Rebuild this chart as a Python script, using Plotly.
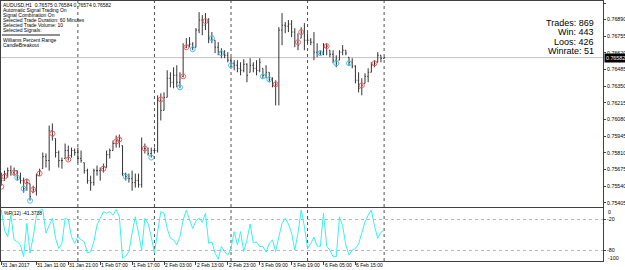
import plotly.graph_objects as go

# ---------------- data ----------------
open_ = [0.75616, 0.75584, 0.75641, 0.75665, 0.75649, 0.75665, 0.75608, 0.75584, 0.75519, 0.75559,
         0.75486, 0.75511, 0.75624, 0.75681, 0.75779, 0.75747, 0.75991, 0.75926, 0.75812, 0.75747,
         0.75763, 0.75828, 0.75787, 0.75828, 0.75812, 0.75763, 0.75730, 0.75665, 0.75584, 0.75568,
         0.75665, 0.75665, 0.75681, 0.75690, 0.75795, 0.75828, 0.75885, 0.75909, 0.75869, 0.75641,
         0.75616, 0.75600, 0.75568, 0.75584, 0.75551, 0.75844, 0.75844, 0.75804, 0.75828, 0.75828,
         0.76235, 0.76154, 0.76259, 0.76414, 0.76382, 0.76438, 0.76382, 0.76430, 0.76666, 0.76683,
         0.76691, 0.76666, 0.76805, 0.76886, 0.76845, 0.76878, 0.76740, 0.76723, 0.76666, 0.76626,
         0.76618, 0.76601, 0.76561, 0.76536, 0.76520, 0.76495, 0.76479, 0.76528, 0.76463, 0.76520,
         0.76495, 0.76479, 0.76495, 0.76438, 0.76463, 0.76406, 0.76357, 0.76365, 0.76805, 0.76845,
         0.76837, 0.76854, 0.76789, 0.76707, 0.76740, 0.76789, 0.76723, 0.76723, 0.76707, 0.76626,
         0.76618, 0.76618, 0.76666, 0.76642, 0.76609, 0.76561, 0.76561, 0.76626, 0.76642, 0.76585,
         0.76544, 0.76512, 0.76398, 0.76333, 0.76373, 0.76430, 0.76463, 0.76520, 0.76544, 0.76601,
         0.76575]
high = [0.75649, 0.75665, 0.75690, 0.75706, 0.75690, 0.75665, 0.75649, 0.75608, 0.75600, 0.75559,
        0.75543, 0.75641, 0.75681, 0.75812, 0.75804, 0.76031, 0.76048, 0.75926, 0.75828, 0.75771,
        0.75885, 0.75869, 0.75852, 0.75844, 0.75852, 0.75828, 0.75730, 0.75681, 0.75624, 0.75681,
        0.75706, 0.75690, 0.75722, 0.75828, 0.75844, 0.75909, 0.75950, 0.75958, 0.75869, 0.75649,
        0.75641, 0.75665, 0.75641, 0.75641, 0.75934, 0.75885, 0.75852, 0.75852, 0.75852, 0.76276,
        0.76292, 0.76300, 0.76479, 0.76463, 0.76504, 0.76520, 0.76463, 0.76699, 0.76740, 0.76748,
        0.76707, 0.76821, 0.76951, 0.76927, 0.76943, 0.76902, 0.76789, 0.76723, 0.76707, 0.76658,
        0.76642, 0.76626, 0.76585, 0.76561, 0.76561, 0.76544, 0.76569, 0.76536, 0.76577, 0.76544,
        0.76561, 0.76577, 0.76495, 0.76520, 0.76463, 0.76422, 0.76398, 0.76829, 0.76943, 0.76870,
        0.76886, 0.76886, 0.76821, 0.76780, 0.76829, 0.76862, 0.76780, 0.76740, 0.76789, 0.76699,
        0.76642, 0.76699, 0.76699, 0.76642, 0.76642, 0.76601, 0.76642, 0.76683, 0.76642, 0.76585,
        0.76577, 0.76520, 0.76463, 0.76414, 0.76455, 0.76495, 0.76544, 0.76561, 0.76626, 0.76601,
        0.76584]
low = [0.75543, 0.75584, 0.75608, 0.75624, 0.75624, 0.75584, 0.75559, 0.75486, 0.75502, 0.75421,
       0.75486, 0.75462, 0.75624, 0.75681, 0.75690, 0.75665, 0.75909, 0.75771, 0.75690, 0.75681,
       0.75763, 0.75747, 0.75771, 0.75787, 0.75730, 0.75730, 0.75641, 0.75559, 0.75502, 0.75543,
       0.75624, 0.75584, 0.75649, 0.75690, 0.75763, 0.75828, 0.75852, 0.75852, 0.75624, 0.75584,
       0.75568, 0.75502, 0.75527, 0.75527, 0.75527, 0.75804, 0.75787, 0.75771, 0.75804, 0.75812,
       0.76072, 0.76154, 0.76259, 0.76341, 0.76333, 0.76341, 0.76333, 0.76422, 0.76658, 0.76666,
       0.76642, 0.76666, 0.76780, 0.76764, 0.76805, 0.76699, 0.76699, 0.76618, 0.76601, 0.76577,
       0.76577, 0.76544, 0.76504, 0.76479, 0.76463, 0.76438, 0.76463, 0.76382, 0.76463, 0.76463,
       0.76438, 0.76463, 0.76414, 0.76414, 0.76382, 0.76341, 0.76194, 0.76194, 0.76683, 0.76780,
       0.76789, 0.76748, 0.76666, 0.76642, 0.76740, 0.76642, 0.76699, 0.76683, 0.76561, 0.76585,
       0.76601, 0.76601, 0.76601, 0.76585, 0.76536, 0.76504, 0.76561, 0.76601, 0.76601, 0.76520,
       0.76495, 0.76373, 0.76300, 0.76276, 0.76373, 0.76382, 0.76463, 0.76504, 0.76544, 0.76544,
       0.76574]
close = [0.75584, 0.75641, 0.75665, 0.75649, 0.75665, 0.75608, 0.75584, 0.75519, 0.75568, 0.75454,
         0.75511, 0.75624, 0.75665, 0.75779, 0.75747, 0.75991, 0.75942, 0.75812, 0.75747, 0.75747,
         0.75828, 0.75787, 0.75828, 0.75812, 0.75763, 0.75747, 0.75665, 0.75584, 0.75568, 0.75665,
         0.75665, 0.75681, 0.75690, 0.75795, 0.75828, 0.75885, 0.75909, 0.75926, 0.75641, 0.75616,
         0.75600, 0.75568, 0.75584, 0.75551, 0.75844, 0.75844, 0.75804, 0.75828, 0.75828, 0.76235,
         0.76154, 0.76259, 0.76414, 0.76382, 0.76438, 0.76382, 0.76430, 0.76666, 0.76683, 0.76691,
         0.76666, 0.76805, 0.76886, 0.76845, 0.76878, 0.76740, 0.76723, 0.76666, 0.76626, 0.76618,
         0.76601, 0.76561, 0.76536, 0.76520, 0.76495, 0.76479, 0.76528, 0.76438, 0.76520, 0.76495,
         0.76479, 0.76544, 0.76438, 0.76463, 0.76406, 0.76357, 0.76365, 0.76805, 0.76845, 0.76837,
         0.76854, 0.76789, 0.76707, 0.76683, 0.76789, 0.76723, 0.76723, 0.76707, 0.76626, 0.76618,
         0.76618, 0.76666, 0.76675, 0.76609, 0.76561, 0.76536, 0.76626, 0.76642, 0.76618, 0.76544,
         0.76512, 0.76398, 0.76333, 0.76357, 0.76430, 0.76463, 0.76520, 0.76536, 0.76601, 0.76577,
         0.76582]

sell_idx = [0, 1, 4, 8, 10, 12, 16, 21, 32, 36, 37, 45, 50, 57, 58, 64, 86, 93, 94, 102, 113, 117]
sell_price = [0.75535, 0.75616, 0.75649, 0.75576, 0.75511, 0.75641, 0.75966, 0.75755, 0.75681,
              0.75901, 0.75918, 0.75844, 0.76243, 0.76430, 0.76666, 0.76878, 0.76365, 0.76707,
              0.76789, 0.76675, 0.76357, 0.76536]
buy_idx = [5, 7, 9, 39, 47, 56, 60, 66, 69, 72, 82, 84, 100, 105, 109]
buy_price = [0.75608, 0.75519, 0.75421, 0.75616, 0.75771, 0.76341, 0.76650, 0.76740, 0.76618,
             0.76520, 0.76430, 0.76406, 0.76618, 0.76536, 0.76536]

wpr = [-2, -41, -54, -12, -60, -64, -70, -93, -28, -86,
       -54, -12, -2, -1, -47, -34, -18, -57, -77, -67,
       -18, -21, -54, -67, -54, -60, -64, -86, -83, -64,
       -31, -18, -5, -8, -5, -12, -1, -15, -96, -92,
       -83, -47, -15, -47, -80, -18, -28, -54, -86, -44,
       -5, -8, -38, -57, -60, -70, -54, -21, -2, -21,
       -38, -23, -18, -26, -8, -67, -64, -86, -98, -73,
       -83, -90, -77, -44, -70, -44, -83, -60, -29, -66,
       -64, -73, -73, -84, -67, -60, -83, -54, -28, -18,
       -29, -47, -80, -47, -2, -34, -77, -67, -55, -72,
       -73, -8, -73, -80, -93, -93, -15, -33, -70, -90,
       -80, -77, -68, -47, -25, -12, -2, -34, -57, -45,
       -41.3738]

xtick_idx = [0, 11, 21, 31, 41, 51, 61, 71, 81, 91, 101, 111]
xtick_text = ["31 Jan 2017", "31 Jan 11:00", "31 Jan 21:00", "1 Feb 07:00", "1 Feb 17:00",
              "2 Feb 03:00", "2 Feb 13:00", "2 Feb 23:00", "3 Feb 09:00", "3 Feb 19:00",
              "6 Feb 05:00", "6 Feb 15:00"]
day_starts = [24, 48, 72, 96, 120]
price_ticks = [0.77025, 0.76890, 0.76755, 0.76620, 0.76485, 0.76350, 0.76215, 0.76080,
               0.75945, 0.75810, 0.75675, 0.75540, 0.75405]
wpr_levels = [-20, -80]
current_price = 0.76582
info_lines = ["AUDUSD,H1\u00a0\u00a00.76575 0.76584 0.76574 0.76582",
              "Automatic Signal Trading On",
              "Signal Combination On",
              "Selected Trade Duration: 60 Minutes",
              "Selected Trade Volume: 10",
              "Selected Signals:"]
signal_lines = ["Williams Percent Range", "CandleBreakout"]
stats_lines = ["Trades: 869", "Win: 443", "Loos: 426", "Winrate: 51"]
wpr_label = "%R(12) -41.3738"

# ---------------- layout helpers ----------------
W, H = 625, 270
ML, MR, MT, MB = 1, 22, 1, 9
PW = W - ML - MR
PH = H - MT - MB


def px_x(px):
    return (px - ML) / PW


def px_y(py):
    return (H - MB - py) / PH


FONT = "Liberation Sans"
FRAME = "#404040"
idx = list(range(len(close)))
x0 = -0.1
xr = [x0, x0 + PW / 3.19]

fig = go.Figure()
fig.add_trace(go.Ohlc(x=idx, open=open_, high=high, low=low, close=close,
                      increasing=dict(line=dict(color="#333333", width=1)),
                      decreasing=dict(line=dict(color="#333333", width=1)),
                      tickwidth=0.3, xaxis="x", yaxis="y", hoverinfo="skip"))
fig.add_trace(go.Scatter(x=sell_idx, y=sell_price, mode="markers", xaxis="x", yaxis="y",
                         marker=dict(symbol="circle-open", size=5, color="#ff5c5c",
                                     line=dict(width=1, color="#ff5c5c")), hoverinfo="skip"))
fig.add_trace(go.Scatter(x=buy_idx, y=buy_price, mode="markers", xaxis="x", yaxis="y",
                         marker=dict(symbol="circle-open", size=5, color="#3cc6f2",
                                     line=dict(width=1, color="#3cc6f2")), hoverinfo="skip"))
fig.add_trace(go.Scatter(x=idx, y=wpr, mode="lines", xaxis="x2", yaxis="y2",
                         line=dict(color="#38f2f2", width=1), hoverinfo="skip"))

main_bottom = px_y(207)
ind_top = px_y(208)
ppx = 12326.0
p_top = 0.77025 + 2 / ppx
p_bot = 0.77025 - 204 / ppx

shapes = []
shapes.append(dict(type="line", xref="paper", yref="y", x0=0, x1=1, y0=current_price,
                   y1=current_price, line=dict(color="#c4c4c4", width=1), layer="below"))
for d in day_starts:
    shapes.append(dict(type="line", xref="x", yref="paper", x0=d, x1=d, y0=0, y1=1,
                       line=dict(color="#505050", width=1, dash="dot"), layer="below"))
shapes.append(dict(type="line", xref="paper", yref="paper", x0=px_x(2), x1=px_x(60),
                   y0=px_y(35), y1=px_y(35), line=dict(color="#202020", width=1)))

ann = []
for k, t in enumerate(info_lines):
    ann.append(dict(text=t, xref="paper", yref="paper", x=px_x(2), y=px_y(5 + 5 * k),
                    xanchor="left", yanchor="middle", showarrow=False,
                    font=dict(family=FONT, size=5, color="black"), borderpad=0))
for k, t in enumerate(signal_lines):
    ann.append(dict(text=t, xref="paper", yref="paper", x=px_x(2), y=px_y(40 + 5 * k),
                    xanchor="left", yanchor="middle", showarrow=False,
                    font=dict(family=FONT, size=5, color="black"), borderpad=0))
for k, t in enumerate(stats_lines):
    ann.append(dict(text=t, xref="paper", yref="paper", x=px_x(595), y=px_y(23 + 9.3 * k),
                    xanchor="right", yanchor="middle", showarrow=False,
                    font=dict(family=FONT, size=9, color="black"), borderpad=0))
ann.append(dict(text=wpr_label, xref="paper", yref="paper", x=px_x(3), y=px_y(213),
                xanchor="left", yanchor="middle", showarrow=False,
                font=dict(family=FONT, size=5, color="black"), borderpad=0))
ann.append(dict(text=f"{current_price:.5f}", xref="paper", yref="y", x=1, y=current_price,
                xanchor="left", yanchor="middle", xshift=1, showarrow=False,
                bgcolor="black", font=dict(family=FONT, size=5.3, color="white"), borderpad=1))
ann.append(dict(text="0", xref="paper", yref="paper", x=1, y=px_y(211.7), xanchor="left",
                yanchor="middle", xshift=4, showarrow=False,
                font=dict(family=FONT, size=5.3, color="black"), borderpad=0))
ann.append(dict(text="-100", xref="paper", yref="paper", x=1, y=px_y(258.3), xanchor="left",
                yanchor="middle", xshift=4, showarrow=False,
                font=dict(family=FONT, size=5.3, color="black"), borderpad=0))
for v, t in zip(xtick_idx, xtick_text):
    ann.append(dict(text=t, xref="x2", yref="paper", x=v, y=px_y(265.3), xanchor="left",
                    yanchor="middle", xshift=0, showarrow=False,
                    font=dict(family=FONT, size=5, color="black"), borderpad=0))

fig.update_layout(
    width=W, height=H,
    margin=dict(l=ML, r=MR, t=MT, b=MB, autoexpand=False),
    paper_bgcolor="white", plot_bgcolor="white", showlegend=False,
    font=dict(family=FONT, size=5.3, color="black"),
    xaxis=dict(domain=[0, 1], range=xr, anchor="y", showticklabels=False, ticks="",
               showgrid=False, zeroline=False, showline=True, mirror=True,
               linecolor=FRAME, linewidth=1, rangeslider=dict(visible=False)),
    yaxis=dict(domain=[main_bottom, 1], range=[p_bot, p_top], side="right",
               tickvals=price_ticks, ticktext=[f"{v:.5f}" for v in price_ticks],
               ticks="outside", ticklen=2, tickcolor=FRAME, tickfont=dict(size=5.3),
               showgrid=False, zeroline=False, showline=True, mirror=True,
               linecolor=FRAME, linewidth=1),
    xaxis2=dict(domain=[0, 1], range=xr, anchor="y2", tickvals=xtick_idx,
                showticklabels=False, ticks="outside", ticklen=3, tickcolor=FRAME,
                showgrid=False, zeroline=False, showline=True,
                mirror=True, linecolor=FRAME, linewidth=1),
    yaxis2=dict(domain=[0, ind_top], range=[-101.4, 2.1], side="right",
                tickvals=wpr_levels, ticktext=[str(v) for v in wpr_levels],
                ticks="outside", ticklen=2, tickcolor=FRAME, tickfont=dict(size=5.3),
                showgrid=True, gridcolor="#b8b8b8", griddash="dot", gridwidth=1,
                zeroline=False, showline=True, mirror=True, linecolor=FRAME, linewidth=1),
    shapes=shapes, annotations=ann,
)

fig.write_html("out.html")
